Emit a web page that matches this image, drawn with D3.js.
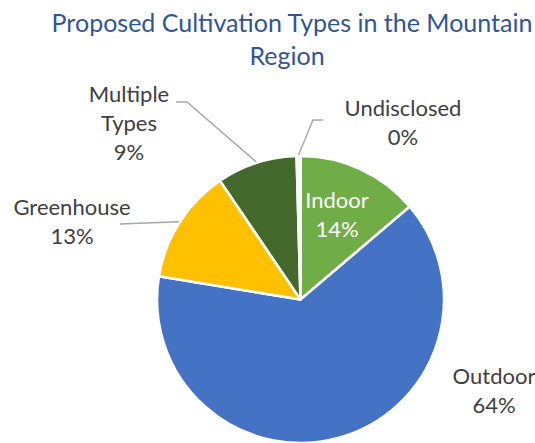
<!DOCTYPE html>
<html>
<head>
<meta charset="utf-8">
<script src="https://cdn.jsdelivr.net/npm/d3@7"></script>
<style>
  html, body { margin: 0; padding: 0; background: #fff; }
  svg { display: block; }
  text { font-family: Lato, "Open Sans", sans-serif; }
</style>
</head>
<body>
<svg id="chart" width="535" height="443"></svg>
<script>
// Proposal counts by cultivation type (clockwise from 12 o'clock)
const categories = ["Indoor", "Outdoor", "Greenhouse", "Multiple Types", "Undisclosed"];
const counts     = [32, 148, 30, 21, 1];
const colors     = ["#70AD47", "#4472C4", "#FFC000", "#43682B", "#F2F2F2"];

const titleLines = ["Proposed Cultivation Types in the Mountain", "Region"];

const W = 535, H = 443;
const cx = 300.5, cy = 299.5, R = 143.5;

// Label placement relative to the pie centre: text centre x, first baseline y,
// optional leader elbow/end points, and whether the label sits inside the slice.
const labelLayout = {
  "Indoor":         { x: 36.5,   y: -91.5,  inside: true },
  "Outdoor":        { x: 193.5,  y: 84.5 },
  "Greenhouse":     { x: -228.5, y: -84.5,  leader: [[-180.5, -75.5]] },
  "Multiple Types": { x: -171.5, y: -197.5, lines: ["Multiple", "Types"],
                      leader: [[-113.5, -197.5], [-124.5, -197.5]] },
  "Undisclosed":    { x: 102.5,  y: -183.5, leader: [[12.5, -179.5], [22.5, -179.5]] }
};

const svg = d3.select("#chart");

// Title
svg.append("g").selectAll("text")
  .data(titleLines)
  .join("text")
  .attr("x", (d, i) => i === 0 ? 292 : 287)
  .attr("y", (d, i) => 32 + i * 33)
  .attr("text-anchor", "middle")
  .attr("fill", "#2F5597")
  .attr("font-size", 25)
  .text(d => d);

const data = categories.map((c, i) => ({ name: c, value: counts[i], color: colors[i] }));
const total = d3.sum(counts);
const pct = d3.format(".0%");

const pie = d3.pie().sort(null).value(d => d.value).startAngle(0).endAngle(2 * Math.PI);
const arcs = pie(data);
const arc = d3.arc().innerRadius(0).outerRadius(R);

const g = svg.append("g").attr("transform", `translate(${cx},${cy})`);

g.selectAll("path.slice")
  .data(arcs)
  .join("path")
  .attr("class", "slice")
  .attr("d", arc)
  .attr("fill", d => d.data.color)
  .attr("stroke", "#fff")
  .attr("stroke-width", 2.6)
  .attr("stroke-linejoin", "round");

// Leader lines from each slice's mid-angle on the rim to its label
const leaderData = arcs.filter(d => labelLayout[d.data.name].leader);
g.selectAll("polyline.leader")
  .data(leaderData)
  .join("polyline")
  .attr("class", "leader")
  .attr("fill", "none")
  .attr("stroke", "#A6A6A6")
  .attr("stroke-width", 1.4)
  .attr("points", d => {
    const a = (d.startAngle + d.endAngle) / 2;
    const rim = [Math.sin(a) * (R + 1), -Math.cos(a) * (R + 1)];
    return [rim, ...labelLayout[d.data.name].leader].map(p => p.join(",")).join(" ");
  });

// Data labels: category name and share of total
const labels = g.selectAll("text.label")
  .data(arcs)
  .join("text")
  .attr("class", "label")
  .attr("text-anchor", "middle")
  .attr("font-size", 22)
  .attr("fill", d => labelLayout[d.data.name].inside ? "#FFFFFF" : "#404040");

labels.each(function(d) {
  const L = labelLayout[d.data.name];
  const lines = (L.lines || [d.data.name]).concat([pct(d.data.value / total)]);
  d3.select(this).selectAll("tspan")
    .data(lines)
    .join("tspan")
    .attr("x", L.x)
    .attr("y", (t, i) => L.y + i * 28.8)
    .text(t => t);
});
</script>
</body>
</html>
